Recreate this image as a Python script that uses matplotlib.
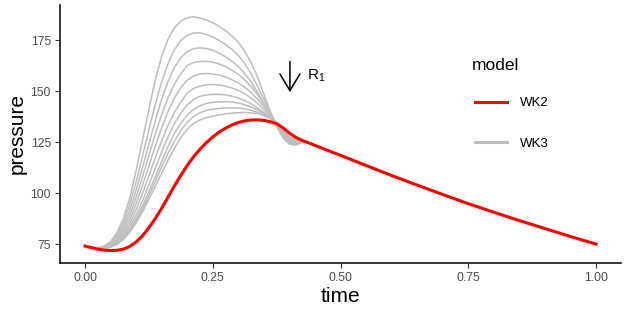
import numpy as np
import matplotlib.pyplot as plt
from matplotlib.lines import Line2D

plt.rcParams['font.family'] = ['Liberation Sans', 'DejaVu Sans']
plt.rcParams['mathtext.fontset'] = 'custom'
plt.rcParams['mathtext.rm'] = 'Liberation Sans'

# WK2 (red) curve
t_wk2 = np.array([0, 0.0125, 0.025, 0.0375, 0.05, 0.0625, 0.075, 0.0875, 0.1, 0.1125,
                  0.125, 0.1375, 0.15, 0.1625, 0.175, 0.1875, 0.2, 0.2125, 0.225, 0.2375,
                  0.25, 0.2625, 0.275, 0.2875, 0.3, 0.3125, 0.325, 0.3375, 0.35, 0.3625,
                  0.375, 0.3875, 0.4, 0.4125, 0.425, 0.4375, 0.45, 0.475, 0.5, 0.55,
                  0.6, 0.65, 0.7, 0.75, 0.8, 0.85, 0.9, 0.95, 1.0])
p_wk2 = np.array([74.0, 73.2, 72.5, 72.0, 71.8, 71.9, 72.5, 73.8, 76.0, 79.0,
                  83.0, 87.5, 92.5, 98.0, 103.5, 108.7, 113.5, 117.8, 121.5, 124.7,
                  127.5, 129.9, 131.8, 133.4, 134.6, 135.4, 135.8, 135.9, 135.6, 135.0,
                  134.0, 132.0, 129.4, 127.3, 125.8, 124.6, 123.4, 120.9, 118.5, 113.5,
                  108.6, 103.9, 99.3, 94.8, 90.6, 86.5, 82.6, 78.7, 75.0])

# WK3 (grey) curves, one per R1 value (largest R1 first);
# after t=0.4375 they run under the red curve
t_wk3 = np.array([0, 0.0125, 0.025, 0.0375, 0.05, 0.0625, 0.075, 0.0875, 0.1, 0.1125,
                  0.125, 0.1375, 0.15, 0.1625, 0.175, 0.1875, 0.2, 0.2125, 0.225, 0.2375,
                  0.25, 0.2625, 0.275, 0.2875, 0.3, 0.3125, 0.325, 0.3375, 0.35, 0.3625,
                  0.375, 0.3875, 0.4, 0.4125, 0.425, 0.4375])
wk3_1 = [74.0, 73.4, 73.2, 74.0, 76.2, 80.5, 87.5, 97.5, 111.0, 126.0,
         141.0, 155.5, 167.0, 175.5, 181.0, 184.3, 186.0, 186.4, 185.8, 184.8,
         183.5, 181.8, 179.6, 177.0, 174.0, 169.5, 164.0, 157.0, 148.5, 140.0,
         132.5, 127.0, 124.0, 123.5, 124.8, 124.6]
wk3_2 = [74.0, 73.4, 73.1, 73.8, 75.7, 79.3, 85.5, 94.5, 105.5, 118.0,
         131.0, 143.5, 154.5, 163.5, 170.3, 174.8, 177.3, 178.5, 178.5, 177.8,
         176.5, 174.8, 172.8, 170.5, 167.5, 163.5, 158.5, 152.5, 146.0, 139.5,
         133.2, 127.8, 124.5, 123.9, 125.0, 124.6]
wk3_3 = [74.0, 73.4, 73.0, 73.6, 75.2, 78.3, 83.7, 91.5, 101.5, 112.5,
         124.0, 135.5, 146.0, 154.8, 161.7, 166.3, 169.3, 170.8, 171.2, 170.9,
         170.0, 168.6, 166.8, 164.6, 162.0, 158.6, 154.5, 149.5, 144.0, 138.8,
         133.5, 128.2, 124.9, 124.3, 125.1, 124.6]
wk3_4 = [74.0, 73.4, 73.0, 73.4, 74.8, 77.5, 82.2, 89.0, 98.0, 108.0,
         118.5, 129.0, 138.5, 146.8, 153.5, 158.5, 162.5, 164.0, 164.5, 164.6,
         164.2, 163.3, 162.0, 160.3, 158.2, 155.5, 152.2, 148.2, 143.5, 138.6,
         133.8, 128.6, 125.3, 124.6, 125.2, 124.6]
wk3_5 = [74.0, 73.3, 72.9, 73.2, 74.4, 76.8, 80.8, 86.8, 94.8, 103.8,
         113.3, 123.0, 132.0, 140.0, 146.6, 151.7, 155.3, 157.4, 158.4, 158.6,
         158.4, 157.8, 156.9, 155.6, 154.0, 151.9, 149.3, 146.1, 142.3, 138.2,
         133.9, 129.0, 125.7, 124.9, 125.3, 124.6]
wk3_6 = [74.0, 73.3, 72.9, 73.1, 74.1, 76.2, 79.6, 84.8, 91.8, 99.8,
         108.4, 117.3, 125.6, 133.2, 139.6, 144.6, 149.0, 151.3, 152.4, 153.1,
         153.2, 153.0, 152.4, 151.5, 150.3, 148.7, 146.6, 144.0, 140.9, 137.6,
         134.0, 129.4, 126.1, 125.2, 125.4, 124.6]
wk3_7 = [74.0, 73.3, 72.9, 73.0, 73.9, 75.7, 78.7, 83.2, 89.2, 96.2,
         104.0, 112.2, 120.2, 127.6, 134.0, 139.2, 143.2, 145.9, 147.4, 148.1,
         148.4, 148.4, 148.1, 147.5, 146.6, 145.4, 143.8, 141.8, 139.5, 136.9,
         134.1, 129.8, 126.5, 125.5, 125.5, 124.6]
wk3_8 = [74.0, 73.3, 72.8, 72.9, 73.7, 75.3, 78.0, 82.0, 87.3, 93.6,
         100.6, 108.0, 115.5, 122.8, 129.2, 134.3, 138.2, 141.0, 142.8, 143.9,
         144.5, 144.7, 144.8, 144.6, 144.1, 143.3, 142.2, 140.8, 139.0, 136.8,
         134.2, 130.2, 126.9, 125.8, 125.6, 124.6]
wk3_9 = [74.0, 73.3, 72.8, 72.8, 73.5, 75.0, 77.5, 81.1, 86.3, 92.2,
         98.8, 105.8, 112.8, 119.5, 125.5, 130.6, 134.6, 137.5, 139.4, 140.5,
         141.1, 141.5, 141.7, 141.8, 141.7, 141.3, 140.6, 139.6, 138.3, 136.6,
         134.4, 130.6, 127.3, 126.1, 125.7, 124.6]
wk3_10 = [74.0, 73.3, 72.8, 72.8, 73.4, 74.8, 77.2, 80.7, 85.4, 90.8,
          96.9, 103.3, 109.8, 116.2, 122.0, 127.2, 131.3, 134.1, 135.8, 136.9,
          137.7, 138.3, 138.8, 139.2, 139.4, 139.5, 139.3, 138.9, 138.1, 136.6,
          134.6, 131.0, 127.7, 126.4, 125.8, 124.6]
wk3_curves = [wk3_1, wk3_2, wk3_3, wk3_4, wk3_5, wk3_6, wk3_7, wk3_8, wk3_9, wk3_10]

x_ticks = [0.00, 0.25, 0.50, 0.75, 1.00]
x_labels = ['0.00', '0.25', '0.50', '0.75', '1.00']
y_ticks = [75, 100, 125, 150, 175]

fig = plt.figure(figsize=(6.3, 3.14), dpi=100)
ax = fig.add_axes([60/630, 1-263/314, 561/630, 258/314])

tail = t_wk2 > t_wk3[-1]
for p in wk3_curves:
    tt = np.concatenate([t_wk3, t_wk2[tail]])
    pp = np.concatenate([p, p_wk2[tail]])
    ax.plot(tt, pp, color='#BEBEBE', lw=1.1)
ax.plot(t_wk2, p_wk2, color='#FF0000', lw=2.2)

ax.annotate('', xy=(0.401, 149.5), xytext=(0.401, 164.5),
            arrowprops=dict(arrowstyle='->,head_length=0.6,head_width=0.36',
                            color='black', lw=1.1, mutation_scale=20,
                            shrinkA=0, shrinkB=0))
ax.text(0.434, 157.5, r'R$_1$', fontsize=11, va='center', ha='left')

ax.set_xlim(-0.049, 1.049)
ax.set_ylim(65.7, 192.2)
ax.set_xticks(x_ticks)
ax.set_xticklabels(x_labels)
ax.set_yticks(y_ticks)
ax.tick_params(axis='both', labelsize=8.8, labelcolor='#4D4D4D', color='#333333',
               length=3.5, width=0.8, pad=3)
for s in ['top', 'right']:
    ax.spines[s].set_visible(False)
for s in ['left', 'bottom']:
    ax.spines[s].set_linewidth(1.1)
ax.set_xlabel('time', fontsize=15, labelpad=2)
ax.set_ylabel('pressure', fontsize=15, labelpad=3)

handles = [Line2D([], [], color='#FF0000', lw=2.2),
           Line2D([], [], color='#BEBEBE', lw=2.2)]
ax.legend(handles, ['WK2', 'WK3'], frameon=False,
          loc='upper left', bbox_to_anchor=(466/630, 1-88/314),
          bbox_transform=fig.transFigure, fontsize=9.5,
          handlelength=2.4, handletextpad=1.0,
          labelspacing=2.15, borderpad=0.2)
fig.text(472/630, 1-66/314, 'model', fontsize=12.5, va='center', ha='left')

fig.savefig('out.png', dpi=100)
